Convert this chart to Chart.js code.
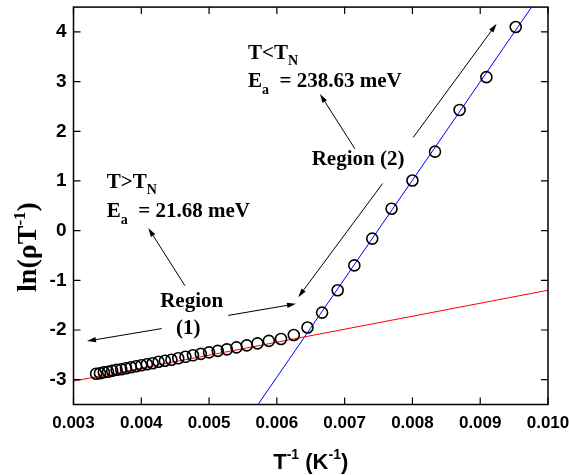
<!DOCTYPE html>
<html><head><meta charset="utf-8">
<script src="https://cdn.jsdelivr.net/npm/chart.js@4/dist/chart.umd.min.js"></script>
<style>html,body{margin:0;padding:0;background:#fff;}</style>
</head><body>
<canvas id="c" width="569" height="475"></canvas>
<script>
// ---- data ----
const invT = [0.003333,0.003390,0.003448,0.003509,0.003571,0.003636,0.003704,0.003774,0.003846,0.003922,
  0.004000,0.004082,0.004167,0.004255,0.004348,0.004444,0.004545,0.004651,0.004762,0.004878,
  0.005000,0.005128,0.005263,0.005405,0.005556,0.005714,0.005882,0.006061,0.006250,0.006452,
  0.006667,0.006897,0.007143,0.007407,0.007692,0.008000,0.008333,0.008696,0.009091,0.009524];
const lnRhoT = [-2.88,-2.87,-2.85,-2.84,-2.82,-2.80,-2.79,-2.77,-2.75,-2.73,
  -2.71,-2.69,-2.67,-2.64,-2.62,-2.60,-2.57,-2.54,-2.51,-2.48,
  -2.45,-2.42,-2.39,-2.35,-2.31,-2.27,-2.22,-2.18,-2.10,-1.95,
  -1.65,-1.20,-0.70,-0.16,0.44,1.01,1.59,2.43,3.09,4.10];
const fitAboveX = [0.003, 0.010];
const fitAboveY = [-3.03, -1.20];
const fitBelowX = [0.005722, 0.009758];
const fitBelowY = [-3.5, 4.5];
const xTickLabels = ['0.003','0.004','0.005','0.006','0.007','0.008','0.009','0.010'];
const yTickLabels = ['-3','-2','-1','0','1','2','3','4'];
const xRange = [0.003, 0.010];
const yRange = [-3.5, 4.5];

const xMajor = xTickLabels.map(Number);
const yMajor = yTickLabels.map(Number);
function withMinor(maj, lo, hi){
  const step = maj[1]-maj[0];
  const out = [];
  const cand = [maj[0]-step/2];
  maj.forEach(m => { cand.push(m); cand.push(m+step/2); });
  cand.forEach(v => { if (v >= lo-1e-12 && v <= hi+1e-12) out.push({value:v}); });
  return out;
}
function labelFor(maj, labels){
  return v => { const i = maj.findIndex(m => Math.abs(m-v) < 1e-9); return i >= 0 ? labels[i] : null; };
}

const pts = invT.map((v,i) => ({x:v, y:lnRhoT[i]}));
const redLine = fitAboveX.map((v,i) => ({x:v, y:fitAboveY[i]}));
const blueLine = fitBelowX.map((v,i) => ({x:v, y:fitBelowY[i]}));

// map reference-picture pixel to data coordinates (for annotations)
const refMap = (px,py) => [0.003 + (px-73.5)/67800, 4 - (py-30)/50.24];

const SERIF = '"Liberation Serif", "Times New Roman", serif';
const SANS = '"Liberation Sans", Arial, Helvetica, sans-serif';

function drawRuns(ctx, x, y, parts){
  let cx = x;
  parts.forEach(([t, size, dy, fam]) => {
    ctx.font = 'bold ' + size + 'px ' + fam;
    ctx.fillText(t, cx, y + dy);
    cx += ctx.measureText(t).width;
  });
  return cx;
}
function runsWidth(ctx, parts){
  let w = 0;
  parts.forEach(([t, size, dy, fam]) => { ctx.font = 'bold ' + size + 'px ' + fam; w += ctx.measureText(t).width; });
  return w;
}

const overlay = {
  id: 'overlay',
  afterDraw(chart){
    const {ctx, chartArea: a, scales} = chart;
    const xs = scales.x, ys = scales.y;
    const P = (px,py) => { const [dx,dy] = refMap(px,py); return [xs.getPixelForValue(dx), ys.getPixelForValue(dy)]; };
    ctx.save();
    ctx.strokeStyle = '#000'; ctx.fillStyle = '#000';
    // frame
    ctx.lineWidth = 1.5;
    ctx.strokeRect(a.left, a.top, a.right - a.left, a.bottom - a.top);
    // inward ticks on all sides
    ctx.lineWidth = 1.2;
    xs.ticks.forEach(t => {
      const p = xs.getPixelForValue(t.value);
      const L = (t.label != null && t.label !== '') ? 7 : 4;
      ctx.beginPath();
      ctx.moveTo(p, a.bottom); ctx.lineTo(p, a.bottom - L);
      ctx.moveTo(p, a.top); ctx.lineTo(p, a.top + L);
      ctx.stroke();
    });
    ys.ticks.forEach(t => {
      const p = ys.getPixelForValue(t.value);
      const L = (t.label != null && t.label !== '') ? 7 : 4;
      ctx.beginPath();
      ctx.moveTo(a.left, p); ctx.lineTo(a.left + L, p);
      ctx.moveTo(a.right, p); ctx.lineTo(a.right - L, p);
      ctx.stroke();
    });

    // arrows
    const arrows = [
      [[161.7,330],[87,342.7]],
      [[228.3,316.7],[296,305]],
      [[185,286.7],[148.3,228.3]],
      [[382.7,183.3],[298.3,298.3]],
      [[355,148.3],[320,92.7]],
      [[413.3,136.7],[496.7,21.7]]
    ];
    ctx.lineWidth = 1;
    arrows.forEach(([s,e]) => {
      const [x1,y1] = P(s[0],s[1]); const [x2,y2] = P(e[0],e[1]);
      const ang = Math.atan2(y2-y1, x2-x1);
      const hl = 9, hw = 2.6;
      const bx = x2 - hl*Math.cos(ang), by = y2 - hl*Math.sin(ang);
      ctx.beginPath(); ctx.moveTo(x1,y1); ctx.lineTo(bx,by); ctx.stroke();
      ctx.beginPath();
      ctx.moveTo(x2,y2);
      ctx.lineTo(bx + hw*Math.sin(ang), by - hw*Math.cos(ang));
      ctx.lineTo(bx - hw*Math.sin(ang), by + hw*Math.cos(ang));
      ctx.closePath(); ctx.fill();
    });

    // text annotations
    ctx.textBaseline = 'alphabetic';
    ctx.textAlign = 'left';
    const F = 21, S = 14;
    let q;
    q = P(106.7,188.3);
    drawRuns(ctx, q[0], q[1], [['T>T',F,0,SERIF],['N',S,6,SERIF]]);
    q = P(106.7,216.7);
    drawRuns(ctx, q[0], q[1], [['E',F,0,SERIF],['a',S,7,SERIF],['  = 21.68 meV',F,0,SERIF]]);
    q = P(248,57);
    drawRuns(ctx, q[0], q[1], [['T<T',F,0,SERIF],['N',S,6,SERIF]]);
    q = P(248,86);
    drawRuns(ctx, q[0], q[1], [['E',F,0,SERIF],['a',S,7,SERIF],['  = 238.63 meV',F,0,SERIF]]);
    ctx.font = 'bold ' + F + 'px ' + SERIF;
    ctx.textAlign = 'center';
    q = P(191.7,308.3); ctx.fillText('Region', q[0], q[1]);
    q = P(188.3,335); ctx.fillText('(1)', q[0], q[1]);
    ctx.textAlign = 'left';
    q = P(311.7,165); ctx.fillText('Region (2)', q[0], q[1]);

    // axis titles
    const xt = [['T',22,0,SANS],['-1',14,-10,SANS],[' (K',22,0,SANS],['-1',14,-10,SANS],[')',22,0,SANS]];
    const xw = runsWidth(ctx, xt);
    const xc = (a.left + a.right)/2;
    drawRuns(ctx, xc - xw/2, 469, xt);

    const yt = [['ln(\u03C1T',28,0,SERIF],['-1',17,-11,SERIF],[')',28,0,SERIF]];
    const yw = runsWidth(ctx, yt);
    ctx.translate(36, 247);
    ctx.rotate(-Math.PI/2);
    drawRuns(ctx, -yw/2, 0, yt);
    ctx.restore();
  }
};

new Chart(document.getElementById('c'), {
  type: 'scatter',
  data: {
    datasets: [
      {data: pts, showLine:false, pointStyle:'circle', pointRadius:5.5, pointHoverRadius:5.5,
       borderColor:'#000', backgroundColor:'rgba(0,0,0,0)', pointBorderWidth:1.6, borderWidth:1.6},
      {data: redLine, showLine:true, pointRadius:0, borderColor:'#ff0000', borderWidth:1, fill:false},
      {data: blueLine, showLine:true, pointRadius:0, borderColor:'#0000ff', borderWidth:1, fill:false}
    ]
  },
  options: {
    responsive:false, animation:false, devicePixelRatio:1,
    layout:{padding:{left:0, right:21, top:5, bottom:0}},
    plugins:{legend:{display:false}, tooltip:{enabled:false}, title:{display:false}},
    scales:{
      x:{type:'linear', min:xRange[0], max:xRange[1],
        grid:{display:false, drawTicks:false}, border:{display:false},
        afterBuildTicks(s){ s.ticks = withMinor(xMajor, xRange[0], xRange[1]); },
        afterFit(s){ s.height = 70.5; s.paddingLeft = 0; s.paddingRight = 0; },
        ticks:{autoSkip:false, maxRotation:0, padding:9, color:'#000',
          font:{family:SANS, weight:'bold', size:17}, callback: labelFor(xMajor, xTickLabels)}},
      y:{type:'linear', min:yRange[0], max:yRange[1],
        grid:{display:false, drawTicks:false}, border:{display:false},
        afterBuildTicks(s){ s.ticks = withMinor(yMajor, yRange[0], yRange[1]); },
        afterFit(s){ s.width = 73.5; s.paddingTop = 0; s.paddingBottom = 0; },
        ticks:{autoSkip:false, padding:7, color:'#000',
          font:{family:SANS, weight:'bold', size:19}, callback: labelFor(yMajor, yTickLabels)}}
    }
  },
  plugins:[overlay]
});
</script>
</body></html>
